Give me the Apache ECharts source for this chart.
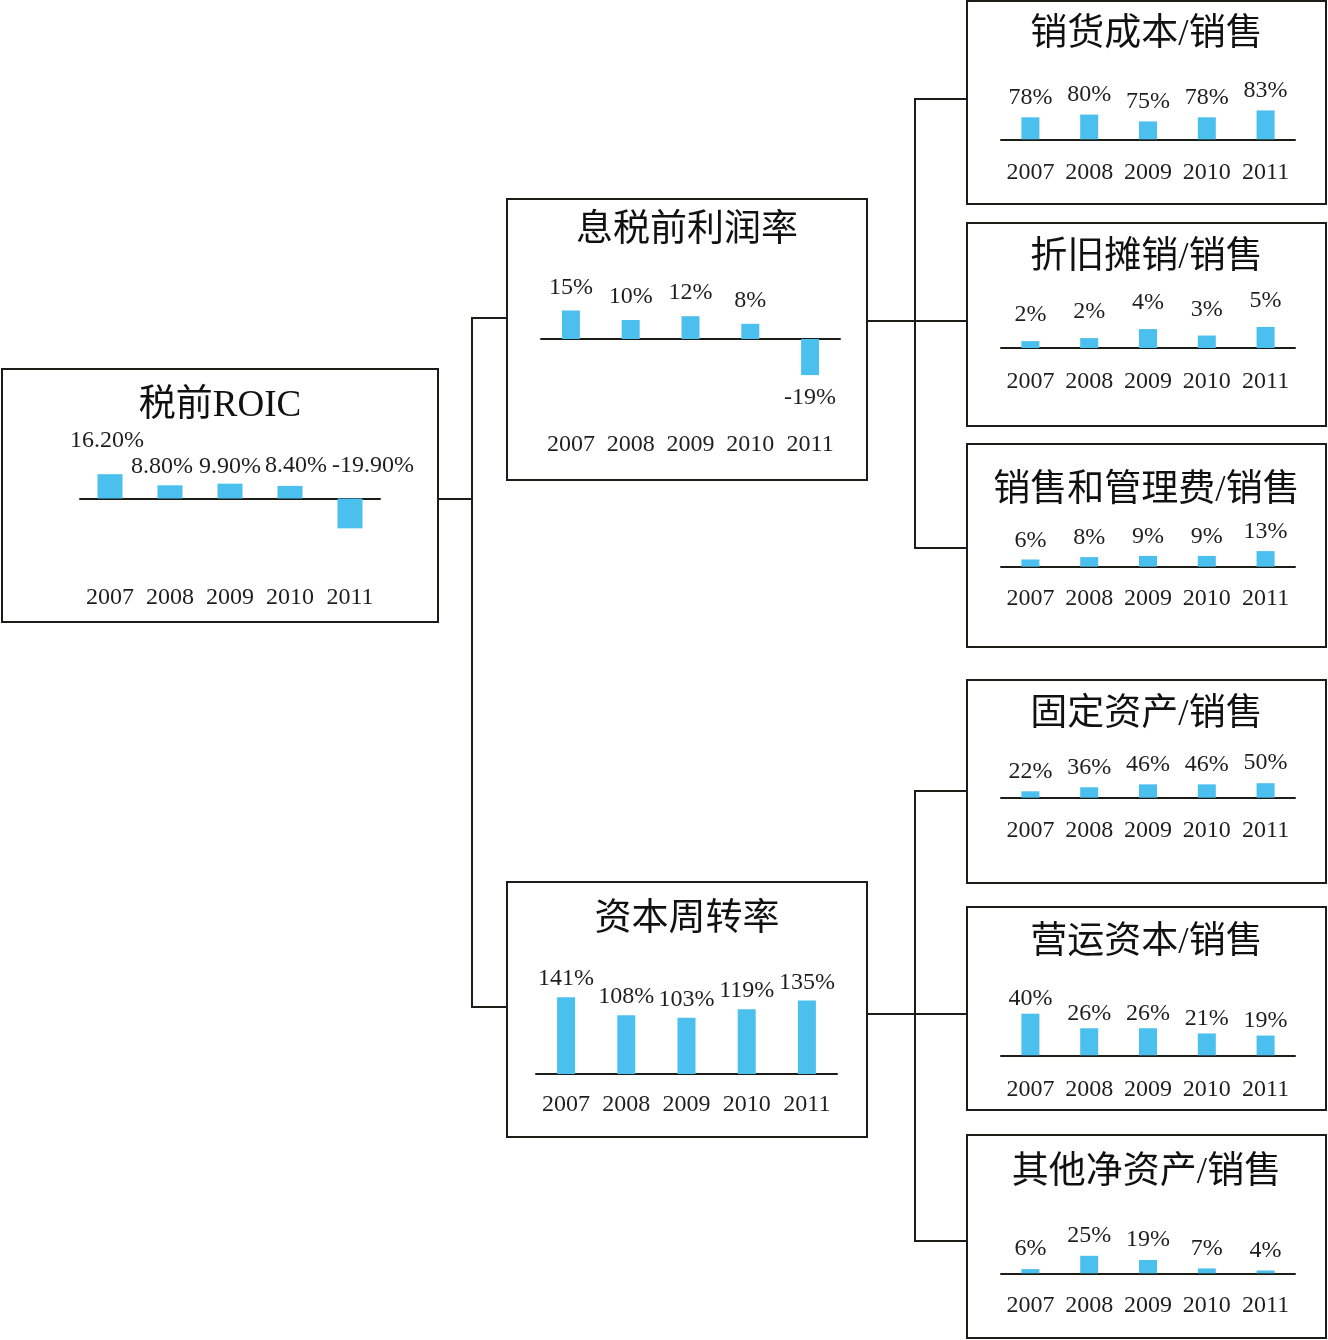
<!DOCTYPE html>
<html>
<head>
<meta charset="utf-8">
<script src="https://cdn.jsdelivr.net/npm/echarts@6/dist/echarts.min.js"></script>
<style>
html, body { margin: 0; background: #ffffff; }
#main { width: 1328px; height: 1340px; }
</style>
</head>
<body>
<div id="main"></div>
<script>
// ---- data ----
const years = ['2007', '2008', '2009', '2010', '2011']

const roic = [16.2, 8.8, 9.9, 8.4, -19.9]
const ebitMargin = [15, 10, 12, 8, -19]
const capitalTurnover = [141, 108, 103, 119, 135]
const cogsSales = [78, 80, 75, 78, 83]
const daSales = [1.6, 2.3, 4.4, 2.9, 4.9]
const sgaSales = [6, 8, 9, 9, 13]
const fixedAssetsSales = [22, 36, 46, 46, 50]
const workingCapSales = [40, 26, 26, 21, 19]
const otherAssetsSales = [6, 25, 19, 7, 4]

// ---- layout (boxes, scales, label placement) ----
const SERIF = '"Liberation Serif", "Times New Roman", "Noto Sans CJK SC", serif'
const LINE = '#1d1d17'
const BAR = '#4bbfee'
const TEXT = '#1e1e1e'
const FS = 24

const panels = [
    {title: '税前ROIC', data: roic, box: [2, 369, 438, 622], titleY: 406,
     left: 80, right: 380, base: 498.5, k: 1.5, min: -24, max: 20, yearY: 598,
     barW: 25, dist: 5, digits: 2, negPos: 'top',
     offsets: [[-3, -16], [-8, -2], [0, 0], [6, -3], [23, -16]]},
    {title: '息税前利润率', data: ebitMargin, box: [507, 199, 867, 480], titleY: 231,
     left: 541, right: 840, base: 339, k: 1.9, min: -22, max: 18, yearY: 445,
     barW: 18, dist: 11, negPos: 'bottom'},
    {title: '资本周转率', data: capitalTurnover, box: [507, 882, 867, 1137], titleY: 920,
     left: 536, right: 837, base: 1074, k: 0.545, min: 0, max: 150, yearY: 1105,
     barW: 18, dist: 6},
    {title: '销货成本/销售', data: cogsSales, box: [967, 1, 1326, 204], titleY: 35,
     left: 1001, right: 1295, base: 139.3, k: 1.375, min: 62, max: 90, yearY: 172.5,
     barW: 18, dist: 8},
    {title: '折旧摊销/销售', data: daSales, box: [967, 223, 1326, 426], titleY: 258,
     left: 1001, right: 1295, base: 348, k: 4.3, min: 0, max: 6, yearY: 382,
     barW: 18, dist: 14},
    {title: '销售和管理费/销售', data: sgaSales, box: [967, 444, 1326, 647], titleY: 491,
     left: 1001, right: 1295, base: 566.7, k: 1.2, min: 0, max: 15, yearY: 599,
     barW: 18, dist: 7},
    {title: '固定资产/销售', data: fixedAssetsSales, box: [967, 680, 1326, 883], titleY: 715,
     left: 1001, right: 1295, base: 797.7, k: 0.29, min: 0, max: 55, yearY: 831,
     barW: 18, dist: 8},
    {title: '营运资本/销售', data: workingCapSales, box: [967, 907, 1326, 1110], titleY: 943,
     left: 1001, right: 1295, base: 1055.3, k: 1.04, min: 0, max: 45, yearY: 1089.5,
     barW: 18, dist: 3},
    {title: '其他净资产/销售', data: otherAssetsSales, box: [967, 1135, 1326, 1338], titleY: 1173,
     left: 1001, right: 1295, base: 1273.3, k: 0.7, min: 0, max: 30, yearY: 1306,
     barW: 18, dist: 8},
]

// tree connectors
const connectors = [
    [[438, 499], [472, 499]],
    [[507, 318], [472, 318], [472, 1007], [507, 1007]],
    [[867, 321], [915, 321]],
    [[966, 99], [915, 99], [915, 548], [966, 548]],
    [[915, 321], [966, 321]],
    [[867, 1014], [915, 1014]],
    [[966, 791], [915, 791], [915, 1241], [966, 1241]],
    [[915, 1014], [966, 1014]],
]

const grids = []
const xAxes = []
const yAxes = []
const series = []
const graphics = []

panels.forEach((p, i) => {
    const baseVal = p.min > 0 ? p.min : 0
    const top = p.base - (p.max - baseVal) * p.k
    const bottom = p.base + (baseVal - p.min) * p.k
    grids.push({
        left: p.left, top: top, width: p.right - p.left,
        height: bottom - top,
        containLabel: false, outerBoundsMode: 'none'
    })
    xAxes.push({
        gridIndex: i, type: 'category', data: years,
        axisTick: {show: false},
        axisLine: {onZero: true, lineStyle: {color: LINE, width: 2}},
        axisLabel: {interval: 0, margin: p.yearY - bottom - FS / 2,
                    fontSize: FS, fontFamily: SERIF, color: TEXT}
    })
    yAxes.push({gridIndex: i, type: 'value', min: p.min, max: p.max, show: false})
    series.push({
        type: 'bar', xAxisIndex: i, yAxisIndex: i, barWidth: p.barW,
        clip: true, silent: true,
        itemStyle: {color: BAR},
        label: {
            show: true, distance: p.dist, fontSize: FS, fontFamily: SERIF, color: TEXT,
            formatter: (d) => p.digits ? d.value.toFixed(p.digits) + '%' : Math.round(d.value) + '%'
        },
        data: p.data.map((v, j) => ({
            value: v,
            label: {
                position: v < 0 ? (p.negPos || 'bottom') : 'top',
                offset: p.offsets ? p.offsets[j] : [0, 0]
            }
        }))
    })

    const [x1, y1, x2, y2] = p.box
    graphics.push({
        type: 'rect', silent: true,
        shape: {x: x1, y: y1, width: x2 - x1, height: y2 - y1},
        style: {fill: 'rgba(0,0,0,0)', stroke: LINE, lineWidth: 2}
    })
    graphics.push({
        type: 'text', silent: true,
        x: (x1 + x2) / 2, y: p.titleY,
        style: {text: p.title, fill: '#111', font: '37px ' + SERIF,
                textAlign: 'center', textVerticalAlign: 'middle'}
    })
})

connectors.forEach(pts => {
    graphics.push({
        type: 'polyline', silent: true,
        shape: {points: pts},
        style: {fill: null, stroke: LINE, lineWidth: 2}
    })
})

const chart = echarts.init(document.getElementById('main'))
chart.setOption({
    animation: false,
    backgroundColor: '#ffffff',
    grid: grids,
    xAxis: xAxes,
    yAxis: yAxes,
    series: series,
    graphic: graphics
})
</script>
</body>
</html>
